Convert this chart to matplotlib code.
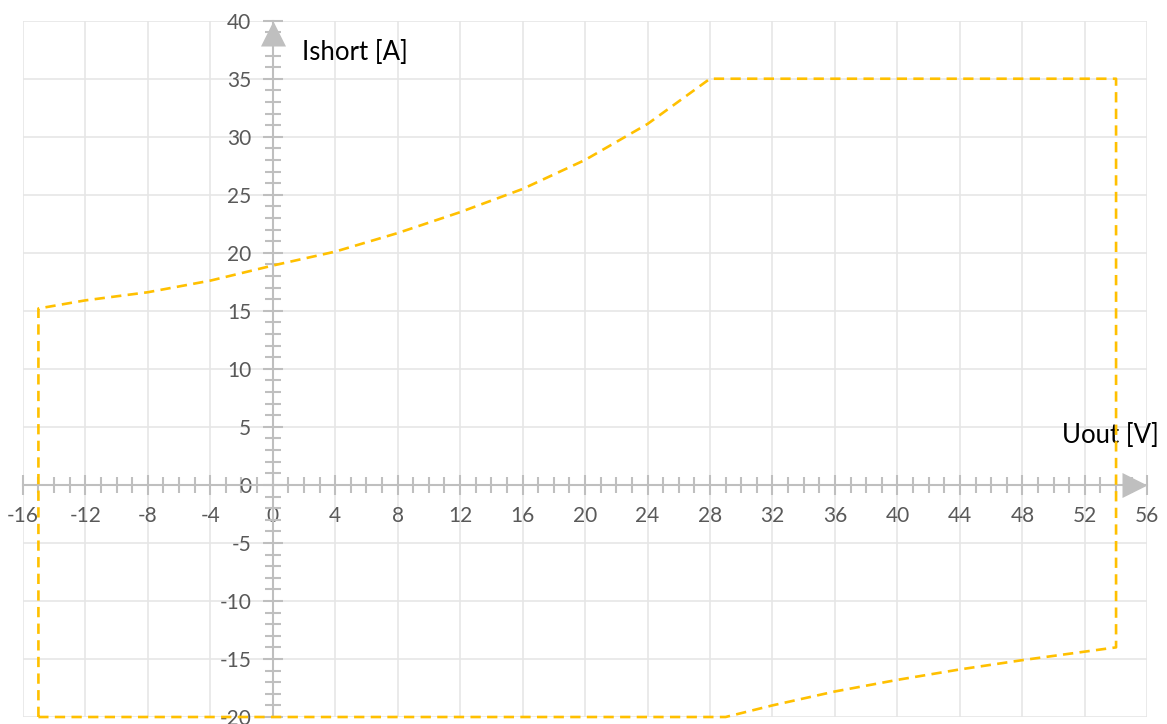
import matplotlib
matplotlib.use("Agg")
import matplotlib.pyplot as plt
from matplotlib.path import Path
from matplotlib.ticker import MultipleLocator, FuncFormatter

# ---- data ----
upper_x = [-15, -12, -8, -4, 0, 4, 8, 12, 16, 20, 24, 28]
upper_y = [15.2, 15.9, 16.6, 17.6, 18.9, 20.1, 21.7, 23.5, 25.5, 28.0, 31.1, 35.0]
right_x = [54, 54]
right_y = [35.0, -14.0]
lower_x = [54, 48, 44, 40, 36, 32, 29]
lower_y = [-14.0, -15.1, -15.9, -16.8, -17.8, -19.0, -20.0]
left_x = [-15, -15]
left_y = [-20.0, 15.2]

x_range = (-16, 56)
y_range = (-20, 40)
x_major, y_major = 4, 5

x_label = "Uout [V]"
y_label = "Ishort [A]"

W, H, DPI = 1167, 724, 100
fig = plt.figure(figsize=(W / DPI, H / DPI), dpi=DPI)
L, R, T, B = 22.8, 1147.3, 20.7, 717.0
ax = fig.add_axes([L / W, 1 - B / H, (R - L) / W, (B - T) / H])

# closed outline
xs = left_x + upper_x[1:] + [right_x[0]] + right_x[1:] + lower_x[1:] + [left_x[0]]
ys = left_y + upper_y[1:] + [right_y[0]] + right_y[1:] + lower_y[1:] + [left_y[0]]
ax.plot(xs, ys, color="#FFC000", lw=1.9, dashes=(3.9, 2.4), zorder=4, clip_on=False)

ax.set_xlim(*x_range)
ax.set_ylim(*y_range)

grey = "#BFBFBF"
for s in ["top", "right"]:
    ax.spines[s].set_visible(False)
ax.spines["left"].set_position(("data", 0))
ax.spines["bottom"].set_position(("data", 0))
for s in ["left", "bottom"]:
    ax.spines[s].set_color(grey)
    ax.spines[s].set_linewidth(1.5)
    ax.spines[s].set_zorder(3)

ax.xaxis.set_major_locator(MultipleLocator(x_major))
ax.yaxis.set_major_locator(MultipleLocator(y_major))
ax.xaxis.set_minor_locator(MultipleLocator(1))
ax.yaxis.set_minor_locator(MultipleLocator(1))
fmt = FuncFormatter(lambda v, p: f"{v:g}")
ax.xaxis.set_major_formatter(fmt)
ax.yaxis.set_major_formatter(fmt)

ax.tick_params(which="major", direction="inout", length=15, width=1.5, color=grey,
               labelsize=15, labelcolor="#595959")
ax.tick_params(which="minor", direction="inout", length=11, width=1.5, color=grey)
ax.tick_params(axis="x", which="major", pad=8)
ax.tick_params(axis="y", which="major", pad=8)
for lab in ax.get_xticklabels() + ax.get_yticklabels():
    lab.set_fontfamily("Lato")

# grid lines (full extent)
for xv in range(x_range[0], x_range[1] + 1, x_major):
    ax.axvline(xv, color="#E6E6E6", lw=1.2, zorder=0)
for yv in range(y_range[0], y_range[1] + 1, y_major):
    ax.axhline(yv, color="#E6E6E6", lw=1.2, zorder=0)

# arrow heads at axis ends
tri_up = Path([(0, 0), (-0.5, -1), (0.5, -1), (0, 0)],
              [Path.MOVETO, Path.LINETO, Path.LINETO, Path.CLOSEPOLY])
tri_right = Path([(0, 0), (-1, 0.5), (-1, -0.5), (0, 0)],
                 [Path.MOVETO, Path.LINETO, Path.LINETO, Path.CLOSEPOLY])
ax.plot([0], [y_range[1]], marker=tri_up, markersize=36, color=grey,
        markeredgewidth=0, clip_on=False, zorder=3)
ax.plot([x_range[1]], [0], marker=tri_right, markersize=36, color=grey,
        markeredgewidth=0, clip_on=False, zorder=3)

# axis titles
ax.text(302 / W, 1 - 60 / H, y_label, transform=fig.transFigure, fontsize=18.5,
        family="Lato", color="black", va="baseline", ha="left")
ax.text(1159 / W, 1 - 443 / H, x_label, transform=fig.transFigure, fontsize=18.5,
        family="Lato", color="black", va="baseline", ha="right")

fig.savefig("out.png", dpi=DPI)
